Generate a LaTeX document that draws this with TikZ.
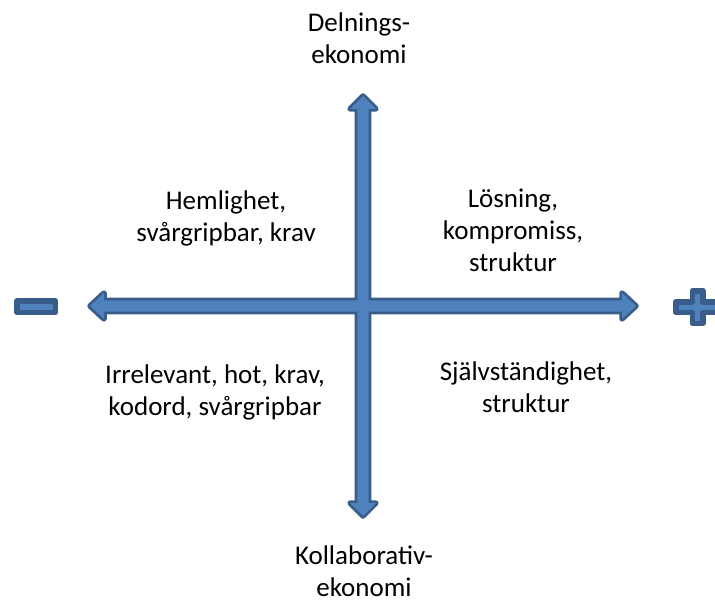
\documentclass[tikz,border=0pt]{standalone}
\usepackage{fontspec}
\setmainfont{Carlito}
\usetikzlibrary{positioning}
\definecolor{arrowfill}{HTML}{4F81BD}
\definecolor{arrowline}{HTML}{385D8A}
% outlines of the two block arrows
\newcommand\horizArrow{(90,306) -- (104,293) -- (104,300.4) -- (622,300.4) -- (622,293) -- (636,306) -- (622,319) -- (622,311.6) -- (104,311.6) -- (104,319) -- cycle}
\newcommand\vertArrow{(363,96) -- (376,109) -- (368.6,109) -- (368.6,503) -- (376,503) -- (363,516) -- (350,503) -- (357.4,503) -- (357.4,109) -- (350,109) -- cycle}

\begin{document}
\begin{tikzpicture}[x=1pt, y=-1pt,
  quad/.style={align=center, font=\fontsize{27}{32}\selectfont, inner sep=0pt},
  rim/.style={draw=arrowline, line width=5.5pt, line join=round},
  core/.style={fill=arrowfill}]
\useasboundingbox (0,0) rectangle (715,604);
% axes: outlines first, then fills, so the cross merges
\path[rim] \horizArrow;
\path[rim] \vertArrow;
\path[core] \horizArrow;
\path[core] \vertArrow;
% minus and plus signs
\path[rim, core] (16.75,300.75) rectangle (55.25,312.25);
\path[rim, core] (692.25,290.75) -- (702.75,290.75) -- (702.75,301.75) -- (720,301.75) -- (720,312.25) -- (702.75,312.25) -- (702.75,323.25) -- (692.25,323.25) -- (692.25,312.25) -- (675.75,312.25) -- (675.75,301.75) -- (692.25,301.75) -- cycle;
% labels
\node[quad] (top) at (359,38) {Delnings-\\ekonomi};
\node[quad] (bottom) at (364,571) {Kollaborativ-\\ekonomi};
\node[quad] (nw) at (226,218) {Hemlighet,\\svårgripbar, krav};
\node[quad] (ne) at (513,230) {Lösning,\\kompromiss,\\struktur};
\node[quad] (sw) at (215,392) {Irrelevant, hot, krav,\\kodord, svårgripbar};
\node[quad] (se) at (526,387) {Självständighet,\\struktur};
\end{tikzpicture}
\end{document}
